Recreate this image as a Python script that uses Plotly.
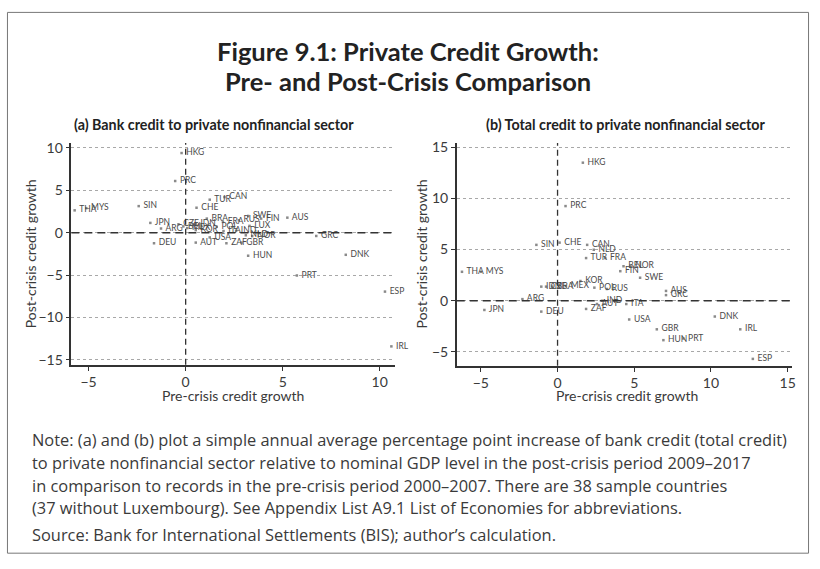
import plotly.graph_objects as go

W, H = 820, 569

# Panel (a): bank credit to private nonfinancial sector
bank_codes = ["HKG", "PRC", "TUR", "CAN", "CHE", "SIN", "THA", "MYS", "JPN", "ARG",
              "CZE", "BEL", "MEX", "IDN", "KOR", "BRA", "FRA", "RUS", "SWE", "FIN",
              "AUS", "POL", "LUX", "ITA", "IND", "NLD", "NOR", "USA", "AUT", "ZAF",
              "GBR", "HUN", "DNK", "GRC", "DEU", "PRT", "ESP", "IRL"]
bank_pre = [-0.21, -0.54, 1.24, 2.00, 0.56, -2.42, -5.72, -5.12, -1.82, -1.27,
            -0.37, -0.12, 0.08, 0.52, 0.52, 1.09, 1.92, 2.74, 3.22, 3.89,
            5.24, 1.60, 3.29, 1.95, 2.60, 3.10, 3.43, 1.24, 0.52, 2.10,
            2.88, 3.22, 8.25, 6.73, -1.63, 5.73, 10.27, 10.60]
bank_post = [9.4, 6.1, 3.9, 4.2, 2.95, 3.14, 2.64, 2.9, 1.16, 0.5,
             1.0, 0.75, 0.55, 1.0, 0.31, 1.67, 1.28, 1.47, 1.98, 1.67,
             1.78, 0.7, 0.81, 0.2, 0.25, -0.3, -0.4, -0.55, -1.16, -1.24,
             -1.16, -2.71, -2.6, -0.38, -1.24, -5.04, -6.94, -13.4]

# Panel (b): total credit to private nonfinancial sector
total_codes = ["HKG", "PRC", "SIN", "CHE", "CAN", "NLD", "TUR", "FRA", "BEL", "NOR",
               "FIN", "SWE", "THA", "MYS", "KOR", "IDN", "CZE", "BRA", "MEX", "POL",
               "RUS", "AUS", "GRC", "ARG", "IND", "AUT", "ITA", "ZAF", "JPN", "DEU",
               "USA", "DNK", "IRL", "GBR", "HUN", "PRT", "ESP"]
total_pre = [1.65, 0.52, -1.38, 0.13, 1.93, 2.36, 1.86, 3.11, 4.30, 4.75,
             4.09, 5.38, -6.23, -4.99, 1.49, -1.06, -0.75, -0.35, 0.55, 2.40,
             3.22, 7.07, 7.07, -2.29, 2.90, 2.57, 4.48, 1.86, -4.77, -1.06,
             4.67, 10.25, 11.91, 6.47, 6.90, 8.20, 12.73]
total_post = [13.49, 9.25, 5.46, 5.68, 5.46, 4.98, 4.17, 4.17, 3.37, 3.4,
              2.89, 2.25, 2.83, 2.83, 1.93, 1.38, 1.38, 1.38, 1.44, 1.28,
              1.15, 0.96, 0.55, 0.16, 0.0, -0.32, -0.32, -0.8, -0.9, -1.06,
              -1.83, -1.54, -2.79, -2.79, -3.85, -3.69, -5.68]

bank_xticks = [-5, 0, 5, 10]
bank_yticks = [-15, -10, -5, 0, 5, 10]
total_xticks = [-5, 0, 5, 10, 15]
total_yticks = [-5, 0, 5, 10, 15]

FONT = "Lato"
NOTE_FONT = "Open Sans"
INK = "#3a3a3a"

fig = go.Figure()

for codes, xs, ys, ax in [(bank_codes, bank_pre, bank_post, ""),
                          (total_codes, total_pre, total_post, "2")]:
    fig.add_trace(go.Scatter(
        x=xs, y=ys, text=[" " + c for c in codes],
        mode="markers+text", textposition="middle right",
        marker=dict(symbol="square", size=2.5, color="#8a8a8a"),
        textfont=dict(family=FONT, size=8.5, color="#4a4a4a"),
        xaxis="x" + ax, yaxis="y" + ax, showlegend=False, cliponaxis=False,
        hoverinfo="skip",
    ))


def px_x(p):
    return p / W


def px_y(p):
    return 1 - p / H


axis_common = dict(
    showline=True, linecolor="#333", linewidth=1.5, ticks="outside",
    ticklen=4, tickcolor="#333", tickwidth=1, zeroline=False,
    tickfont=dict(family=FONT, size=14, color=INK), mirror=False,
)

fig.update_layout(
    width=W, height=H, margin=dict(l=0, r=0, t=0, b=0),
    paper_bgcolor="white", plot_bgcolor="white",
    xaxis=dict(domain=[px_x(71.7), px_x(397)], range=[-5.89, 10.79],
               tickvals=bank_xticks, showgrid=False, anchor="y", **axis_common),
    yaxis=dict(domain=[px_y(365), px_y(140)], range=[-15.58, 10.58],
               tickvals=bank_yticks, showgrid=True, gridcolor="#a8a8a8",
               griddash="dot", gridwidth=1, anchor="x", **axis_common),
    xaxis2=dict(domain=[px_x(459), px_x(796)], range=[-6.57, 15.29],
                tickvals=total_xticks, showgrid=False, anchor="y2", **axis_common),
    yaxis2=dict(domain=[px_y(366), px_y(140)], range=[-6.36, 15.41],
                tickvals=total_yticks, showgrid=True, gridcolor="#a8a8a8",
                griddash="dot", gridwidth=1, anchor="x2", **axis_common),
)

shapes = []
# dashed reference lines through the origin
for xr, yr in [("x", "y"), ("x2", "y2")]:
    shapes.append(dict(type="line", xref=xr, yref=yr + " domain", x0=0, x1=0, y0=0, y1=1,
                       line=dict(color="#333", width=1.3, dash="6px,4px")))
    shapes.append(dict(type="line", xref=xr + " domain", yref=yr, x0=0, x1=1, y0=0, y1=0,
                       line=dict(color="#333", width=1.3, dash="8px,5px")))
# outer frame
shapes.append(dict(type="rect", xref="paper", yref="paper",
                   x0=px_x(7.5), x1=px_x(812.5), y0=px_y(556), y1=px_y(7.5),
                   line=dict(color="#777", width=1)))
fig.update_layout(shapes=shapes)

ann = []
ann.append(dict(text="<b>Figure 9.1: Private Credit Growth:</b>", x=0.5, y=px_y(47),
                xref="paper", yref="paper", showarrow=False, xanchor="center",
                yanchor="middle", font=dict(family=FONT, size=25.5, color="#222")))
ann.append(dict(text="<b>Pre- and Post-Crisis Comparison</b>", x=0.5, y=px_y(77),
                xref="paper", yref="paper", showarrow=False, xanchor="center",
                yanchor="middle", font=dict(family=FONT, size=25.5, color="#222")))
ann.append(dict(text="<b>(a) Bank credit to private nonfinancial sector</b>", x=px_x(215),
                y=px_y(121), xref="paper", yref="paper", showarrow=False,
                xanchor="center", yanchor="middle",
                font=dict(family=FONT, size=14.3, color="#222")))
ann.append(dict(text="<b>(b) Total credit to private nonfinancial sector</b>", x=px_x(629),
                y=px_y(121), xref="paper", yref="paper", showarrow=False,
                xanchor="center", yanchor="middle",
                font=dict(family=FONT, size=14.3, color="#222")))
for xc, yc in [(31, 252), (424, 252)]:
    ann.append(dict(text="Post-crisis credit growth", x=px_x(xc), y=px_y(yc),
                    xref="paper", yref="paper", showarrow=False, textangle=-90,
                    xanchor="center", yanchor="middle",
                    font=dict(family=FONT, size=14, color=INK)))
for xc in [234, 630]:
    ann.append(dict(text="Pre-crisis credit growth", x=px_x(xc), y=px_y(396),
                    xref="paper", yref="paper", showarrow=False,
                    xanchor="center", yanchor="middle",
                    font=dict(family=FONT, size=14, color=INK)))

note_lines = [
    "Note: (a) and (b) plot a simple annual average percentage point increase of bank credit (total credit)",
    "to private nonfinancial sector relative to nominal GDP level in the post-crisis period 2009–2017",
    "in comparison to records in the pre-crisis period 2000–2007. There are 38 sample countries",
    "(37 without Luxembourg). See Appendix List A9.1 List of Economies for abbreviations.",
]
for i, line in enumerate(note_lines):
    ann.append(dict(text=line, x=px_x(30), y=px_y(441 + 23 * i), xref="paper", yref="paper",
                    showarrow=False, xanchor="left", yanchor="middle",
                    font=dict(family=NOTE_FONT, size=16.4, color=INK)))
ann.append(dict(text="Source: Bank for International Settlements (BIS); author’s calculation.",
                x=px_x(30), y=px_y(537), xref="paper", yref="paper", showarrow=False,
                xanchor="left", yanchor="middle",
                font=dict(family=NOTE_FONT, size=16.4, color=INK)))
fig.update_layout(annotations=ann)

fig.write_html("out.html")
